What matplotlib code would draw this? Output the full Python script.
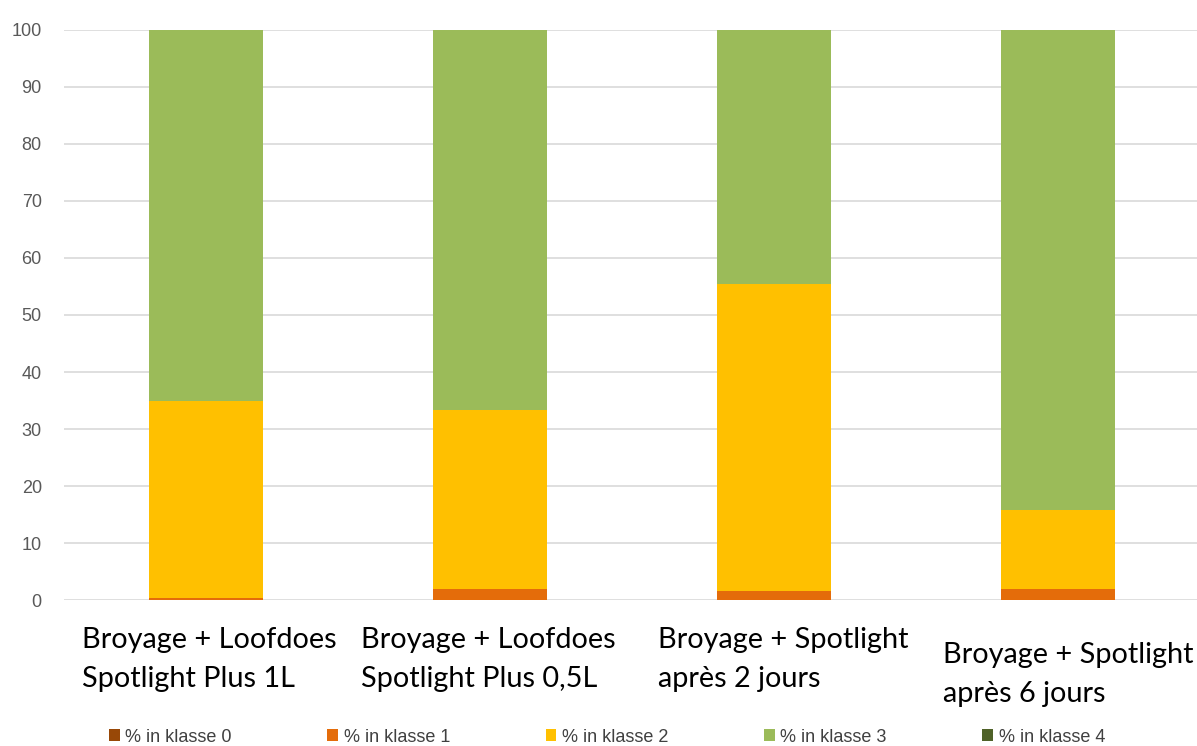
import matplotlib
matplotlib.use("Agg")
import matplotlib.pyplot as plt
import numpy as np
from matplotlib.patches import Patch
from matplotlib.transforms import blended_transform_factory

categories = [
    "Broyage + Loofdoes\nSpotlight Plus 1L",
    "Broyage + Loofdoes\nSpotlight Plus 0,5L",
    "Broyage + Spotlight\naprès 2 jours",
    "Broyage + Spotlight\naprès 6 jours",
]
series_names = ["% in klasse 0", "% in klasse 1", "% in klasse 2", "% in klasse 3", "% in klasse 4"]
klasse0 = [0, 0, 0, 0]
klasse1 = [0.4, 1.9, 1.6, 2.0]
klasse2 = [34.6, 31.5, 53.8, 13.8]
klasse3 = [65.0, 66.6, 44.6, 84.2]
klasse4 = [0, 0, 0, 0]
colors = ["#984807", "#E46C0A", "#FFC000", "#9BBB59", "#4F6228"]
yticks = [0, 10, 20, 30, 40, 50, 60, 70, 80, 90, 100]

tick_font = ["Liberation Sans Narrow", "Liberation Sans", "DejaVu Sans"]
label_font = ["Lato", "DejaVu Sans"]

fig = plt.figure(figsize=(11.97, 7.46), dpi=100)
ax = fig.add_axes([0.0535, 0.1957, 0.9465, 0.7641])

x = np.arange(len(categories))
bottom = np.zeros(len(categories))
series = [klasse0, klasse1, klasse2, klasse3, klasse4]
for vals, col, name in zip(series, colors, series_names):
    vals = np.array(vals, dtype=float)
    ax.bar(x, vals, width=0.4, bottom=bottom, color=col, label=name, zorder=3)
    bottom += vals

ax.set_xlim(-0.5, 3.49)
ax.set_ylim(0, 100)
ax.set_yticks(yticks)
ax.set_yticklabels([str(t) for t in yticks], fontsize=13, color="#595959", family=tick_font)
ax.tick_params(axis="y", length=0, pad=16)
ax.tick_params(axis="x", length=0, labelbottom=False)
ax.grid(axis="y", color="#D9D9D9", linewidth=1.2, zorder=0)
for s in ax.spines.values():
    s.set_visible(False)

trans = blended_transform_factory(ax.transData, fig.transFigure)
label_y = [1 - 627 / 746, 1 - 627 / 746, 1 - 627 / 746, 1 - 642 / 746]
label_dx = [0.012, -0.005, 0.032, 0.035]
for i, lab in enumerate(categories):
    fig.text(x[i] + label_dx[i], label_y[i], lab, transform=trans, ha="center", va="top",
             multialignment="left", fontsize=20.8, family=label_font, color="#000000",
             linespacing=1.62)

handles = [Patch(facecolor=c, edgecolor="none") for c in colors]
fig.legend(handles, series_names, loc="center", bbox_to_anchor=(0.507, 1 - 737 / 746),
           ncol=5, frameon=False, prop={"family": tick_font, "size": 13},
           handlelength=0.6, handleheight=0.6, handletextpad=0.3, columnspacing=5.3,
           labelcolor="#404040")

fig.savefig("out.png", dpi=100)
